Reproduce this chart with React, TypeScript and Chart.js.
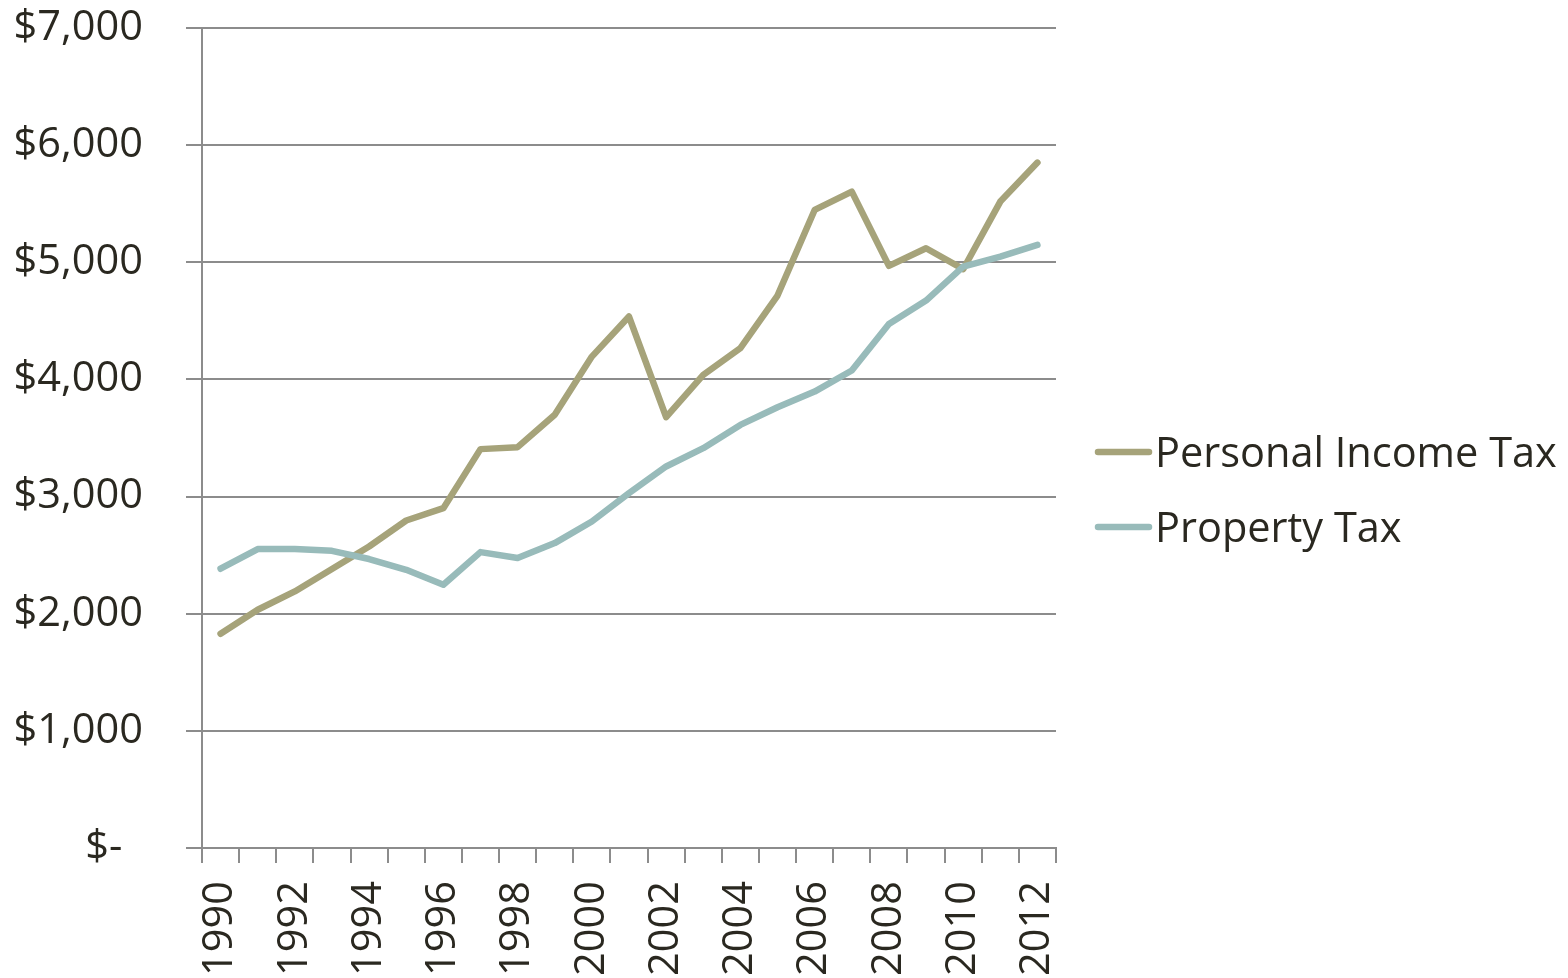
import React, { useEffect, useRef } from "react";
import { Chart, registerables } from "chart.js";

Chart.register(...registerables);

const years = [
  "1990", "1991", "1992", "1993", "1994", "1995", "1996", "1997", "1998", "1999", "2000",
  "2001", "2002", "2003", "2004", "2005", "2006", "2007", "2008", "2009", "2010", "2011", "2012",
];

const personalIncomeTax = [
  1829, 2034, 2190, 2381, 2574, 2796, 2901, 3405, 3422, 3698, 4195,
  4537, 3678, 4039, 4267, 4716, 5447, 5603, 4969, 5120, 4941, 5518, 5851,
];

const propertyTax = [
  2384, 2552, 2552, 2537, 2467, 2375, 2247, 2526, 2475, 2603, 2787,
  3030, 3257, 3413, 3612, 3763, 3896, 4076, 4474, 4673, 4963, 5048, 5148,
];

const yTickLabels = ["$-", "$1,000", "$2,000", "$3,000", "$4,000", "$5,000", "$6,000", "$7,000"];

const seriesNames = ["Personal Income Tax", "Property Tax"];

const FONT = "'Open Sans', 'Noto Sans', sans-serif";
const TEXT = "#2a2820";
const GRID = "#8c8c8c";
const C_INCOME = "#a6a37a";
const C_PROP = "#98bbba";

const legendPlugin = {
  id: "customLegend",
  afterDraw(chart: any) {
    const ctx = chart.ctx;
    ctx.save();
    chart.data.datasets.forEach((ds: any, i: number) => {
      const cy = 452 + i * 75;
      ctx.beginPath();
      ctx.strokeStyle = ds.borderColor;
      ctx.lineWidth = 6.5;
      ctx.lineCap = "round";
      ctx.moveTo(1098, cy);
      ctx.lineTo(1149, cy);
      ctx.stroke();
      ctx.fillStyle = TEXT;
      ctx.font = `41.5px ${FONT}`;
      ctx.textAlign = "left";
      ctx.textBaseline = "alphabetic";
      ctx.fillText(ds.label, 1155, cy + 15);
    });
    ctx.restore();
  },
};

export default function App() {
  const ref = useRef<HTMLCanvasElement | null>(null);

  useEffect(() => {
    document.body.style.margin = "0";
    const canvas = ref.current;
    if (!canvas) return;
    const chart = new Chart(canvas, {
      type: "line",
      data: {
        labels: years,
        datasets: [
          {
            label: seriesNames[0],
            data: personalIncomeTax,
            borderColor: C_INCOME,
            backgroundColor: C_INCOME,
            borderWidth: 6.5,
            borderCapStyle: "round",
            borderJoinStyle: "round",
            pointRadius: 0,
            tension: 0,
            order: 1,
          },
          {
            label: seriesNames[1],
            data: propertyTax,
            borderColor: C_PROP,
            backgroundColor: C_PROP,
            borderWidth: 6.5,
            borderCapStyle: "round",
            borderJoinStyle: "round",
            pointRadius: 0,
            tension: 0,
            order: 0,
          },
        ],
      },
      options: {
        animation: false,
        responsive: false,
        devicePixelRatio: 1,
        layout: { padding: { left: 0, right: 512, top: 28, bottom: 0 } },
        plugins: {
          legend: { display: false },
          tooltip: { enabled: false },
        },
        scales: {
          x: {
            type: "category",
            offset: true,
            grid: {
              offset: true,
              drawOnChartArea: false,
              drawTicks: true,
              tickLength: 15,
              color: GRID,
              lineWidth: 2,
            },
            border: { display: true, color: GRID, width: 2 },
            ticks: {
              autoSkip: false,
              minRotation: 90,
              maxRotation: 90,
              padding: 18,
              color: TEXT,
              font: { family: FONT, size: 41.5 },
              callback: (_v: any, i: number) => (i % 2 === 0 ? years[i] : ""),
            },
            afterFit: (s: any) => {
              s.height = 130;
              s.paddingLeft = 0;
              s.paddingRight = 0;
            },
          },
          y: {
            min: 0,
            max: 7000,
            grid: {
              drawTicks: true,
              tickLength: 16,
              color: GRID,
              lineWidth: 2,
            },
            border: { display: true, color: GRID, width: 2 },
            ticks: {
              stepSize: 1000,
              padding: 43,
              color: TEXT,
              font: { family: FONT, size: 41.5 },
              callback: (_v: any, i: number) => (i === 0 ? yTickLabels[i] + "\u2002" : yTickLabels[i]),
            },
            afterFit: (s: any) => {
              s.width = 202;
              s.paddingTop = 0;
              s.paddingBottom = 0;
            },
          },
        },
      },
      plugins: [legendPlugin],
    });
    return () => chart.destroy();
  }, []);

  return (
    <div style={{ position: "fixed", left: 0, top: 0, width: 1568, height: 978, background: "#fff" }}>
      <canvas ref={ref} width={1568} height={978} style={{ width: 1568, height: 978, display: "block" }} />
    </div>
  );
}
